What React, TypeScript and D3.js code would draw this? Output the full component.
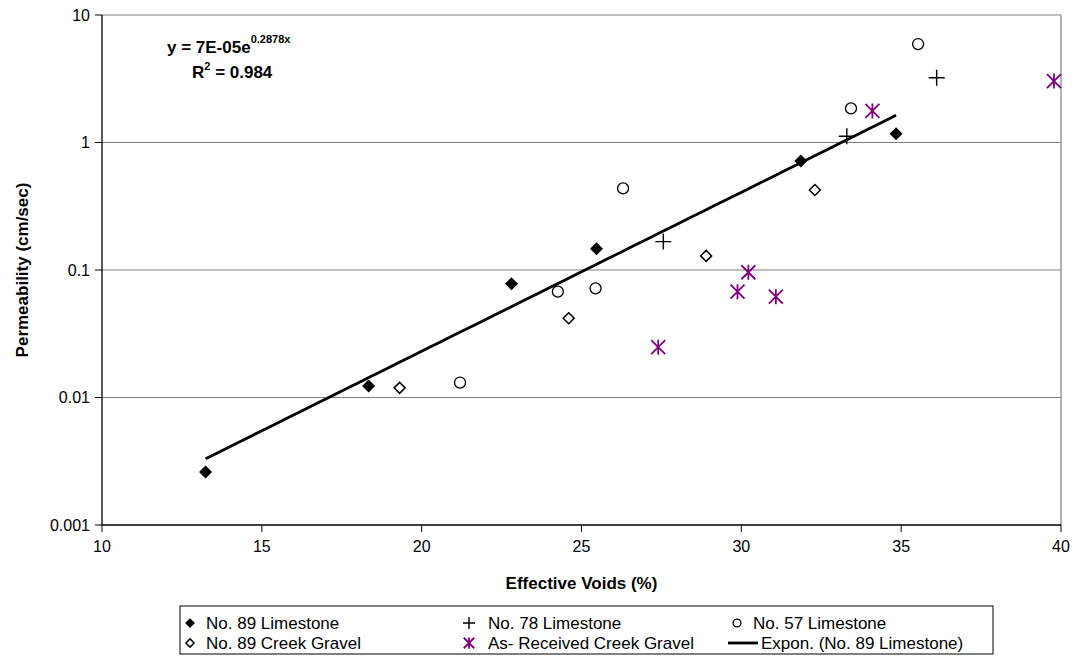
import React from "react";
import * as d3 from "d3";

const xTicks = [10, 15, 20, 25, 30, 35, 40];
const yTicks = [0.001, 0.01, 0.1, 1, 10];
const yTickLabels = ["0.001", "0.01", "0.1", "1", "10"];

const lime89X = [13.24, 18.34, 22.81, 25.47, 31.86, 34.84];
const lime89Y = [0.0026, 0.0123, 0.078, 0.147, 0.716, 1.17];

const lime78X = [27.56, 33.3, 36.11];
const lime78Y = [0.167, 1.12, 3.22];

const lime57X = [21.2, 24.26, 25.44, 26.3, 33.43, 35.53];
const lime57Y = [0.0131, 0.0676, 0.0718, 0.437, 1.85, 5.92];

const creek89X = [19.31, 24.6, 28.9, 32.3];
const creek89Y = [0.0119, 0.0418, 0.129, 0.424];

const asRecX = [27.4, 29.88, 30.22, 31.08, 34.1, 39.78];
const asRecY = [0.0248, 0.0676, 0.096, 0.0618, 1.77, 3.03];

const legendLabels = [
  "No. 89 Limestone",
  "No. 78 Limestone",
  "No. 57 Limestone",
  "No. 89 Creek Gravel",
  "As- Received Creek Gravel",
  "Expon. (No. 89 Limestone)",
];

const PURPLE = "#800080";
const FONT = "Arial, 'Liberation Sans', Helvetica, sans-serif";

function Marker({ kind, x, y, k = 1 }: { kind: string; x: number; y: number; k?: number }) {
  if (kind === "fdiamond") {
    const s = 6.5 * k;
    return <path d={`M${x},${y - s}L${x + s},${y}L${x},${y + s}L${x - s},${y}Z`} fill="#000" />;
  }
  if (kind === "odiamond") {
    const s = 5.5 * k;
    return (
      <path d={`M${x},${y - s}L${x + s},${y}L${x},${y + s}L${x - s},${y}Z`} fill="#fff" stroke="#000" strokeWidth={1.5} />
    );
  }
  if (kind === "circle") {
    return <circle cx={x} cy={y} r={5.5 * k} fill="#fff" stroke="#000" strokeWidth={1.3} />;
  }
  if (kind === "plus") {
    const s = 8 * k;
    return <path d={`M${x - s},${y}H${x + s}M${x},${y - s}V${y + s}`} stroke="#000" strokeWidth={1.4} />;
  }
  const s = 7.5 * k;
  const d = 7 * k;
  return (
    <path
      d={`M${x},${y - s}V${y + s}M${x - d},${y - d}L${x + d},${y + d}M${x - d},${y + d}L${x + d},${y - d}`}
      stroke={PURPLE}
      strokeWidth={1.8}
    />
  );
}

export default function App() {
  const W = 1075;
  const H = 660;
  const left = 102;
  const right = 1061;
  const top = 15;
  const bottom = 525;

  const x = d3.scaleLinear().domain([10, 40]).range([left, right]);
  const y = d3.scaleLog().domain([0.001, 10]).range([bottom, top]);

  // exponential regression on No. 89 Limestone
  const lx = lime89X;
  const ly = lime89Y.map((v) => Math.log(v));
  const mx = d3.mean(lx) as number;
  const my = d3.mean(ly) as number;
  let num = 0;
  let den = 0;
  lx.forEach((v, i) => {
    num += (v - mx) * (ly[i] - my);
    den += (v - mx) * (v - mx);
  });
  const b = num / den;
  const a = Math.exp(my - b * mx);
  const xMin = d3.min(lx) as number;
  const xMax = d3.max(lx) as number;
  const trendPts = d3.range(0, 51).map((i) => {
    const xv = xMin + ((xMax - xMin) * i) / 50;
    return [xv, a * Math.exp(b * xv)] as [number, number];
  });
  const line = d3
    .line<[number, number]>()
    .x((d) => x(d[0]))
    .y((d) => y(d[1]));

  const series = [
    { kind: "fdiamond", xs: lime89X, ys: lime89Y },
    { kind: "plus", xs: lime78X, ys: lime78Y },
    { kind: "circle", xs: lime57X, ys: lime57Y },
    { kind: "odiamond", xs: creek89X, ys: creek89Y },
    { kind: "asterisk", xs: asRecX, ys: asRecY },
  ];

  const legendKinds = ["fdiamond", "plus", "circle", "odiamond", "asterisk", "line"];
  const legendPos = [
    { mx: 190, tx: 206, ty: 623 },
    { mx: 469, tx: 488, ty: 623 },
    { mx: 737, tx: 753, ty: 623 },
    { mx: 190, tx: 206, ty: 643 },
    { mx: 469, tx: 488, ty: 643 },
    { mx: 743, tx: 761, ty: 643 },
  ];

  return (
    <svg
      width={W}
      height={H}
      style={{ position: "absolute", left: 0, top: 0, background: "#fff" }}
      fontFamily={FONT}
    >
      <rect x={0} y={0} width={W} height={H} fill="#fff" />
      {yTicks.slice(1).map((t) => (
        <line key={t} x1={left} x2={right} y1={y(t)} y2={y(t)} stroke="#808080" strokeWidth={1.2} />
      ))}
      <line x1={right} x2={right} y1={top} y2={bottom} stroke="#808080" strokeWidth={1.2} />
      <line x1={left} x2={left} y1={top} y2={bottom} stroke="#000" strokeWidth={1.3} />
      <line x1={left} x2={right} y1={bottom} y2={bottom} stroke="#000" strokeWidth={1.3} />
      {yTicks.map((t, i) => (
        <g key={t}>
          <line x1={left - 7} x2={left} y1={y(t)} y2={y(t)} stroke="#000" strokeWidth={1} />
          <text x={left - 12} y={y(t)} dy="0.35em" textAnchor="end" fontSize={16}>
            {yTickLabels[i]}
          </text>
        </g>
      ))}
      {xTicks.map((t) => (
        <g key={t}>
          <line x1={x(t)} x2={x(t)} y1={bottom} y2={bottom + 7} stroke="#000" strokeWidth={1} />
          <text x={x(t)} y={bottom + 21} dy="0.35em" textAnchor="middle" fontSize={16}>
            {t}
          </text>
        </g>
      ))}
      <text x={(left + right) / 2} y={583} dy="0.35em" textAnchor="middle" fontSize={17} fontWeight="bold">
        Effective Voids (%)
      </text>
      <text
        transform={`translate(22,${(top + bottom) / 2}) rotate(-90)`}
        dy="0.35em"
        textAnchor="middle"
        fontSize={17}
        fontWeight="bold"
      >
        Permeability (cm/sec)
      </text>

      <path d={line(trendPts) || ""} fill="none" stroke="#000" strokeWidth={2.8} />

      {series.map((s) =>
        s.xs.map((xv, i) => <Marker key={s.kind + i} kind={s.kind} x={x(xv)} y={y(s.ys[i])} />)
      )}

      <text x={167} y={53} fontSize={17} fontWeight="bold">
        y = 7E-05e
        <tspan fontSize={11} dy={-10}>
          0.2878x
        </tspan>
      </text>
      <text x={192} y={78} fontSize={17} fontWeight="bold">
        R
        <tspan fontSize={11} dy={-8}>
          2
        </tspan>
        <tspan dy={8}> = 0.984</tspan>
      </text>

      <rect x={180} y={606} width={813} height={48} fill="#fff" stroke="#000" strokeWidth={1} />
      {legendLabels.map((lab, i) => {
        const p = legendPos[i];
        const k = legendKinds[i];
        return (
          <g key={lab}>
            {k === "line" ? (
              <line x1={p.mx - 15} x2={p.mx + 15} y1={p.ty} y2={p.ty} stroke="#000" strokeWidth={2.8} />
            ) : (
              <Marker kind={k} x={p.mx} y={p.ty} k={k === "circle" ? 0.72 : 0.75} />
            )}
            <text x={p.tx} y={p.ty} dy="0.35em" fontSize={17}>
              {lab}
            </text>
          </g>
        );
      })}
    </svg>
  );
}
